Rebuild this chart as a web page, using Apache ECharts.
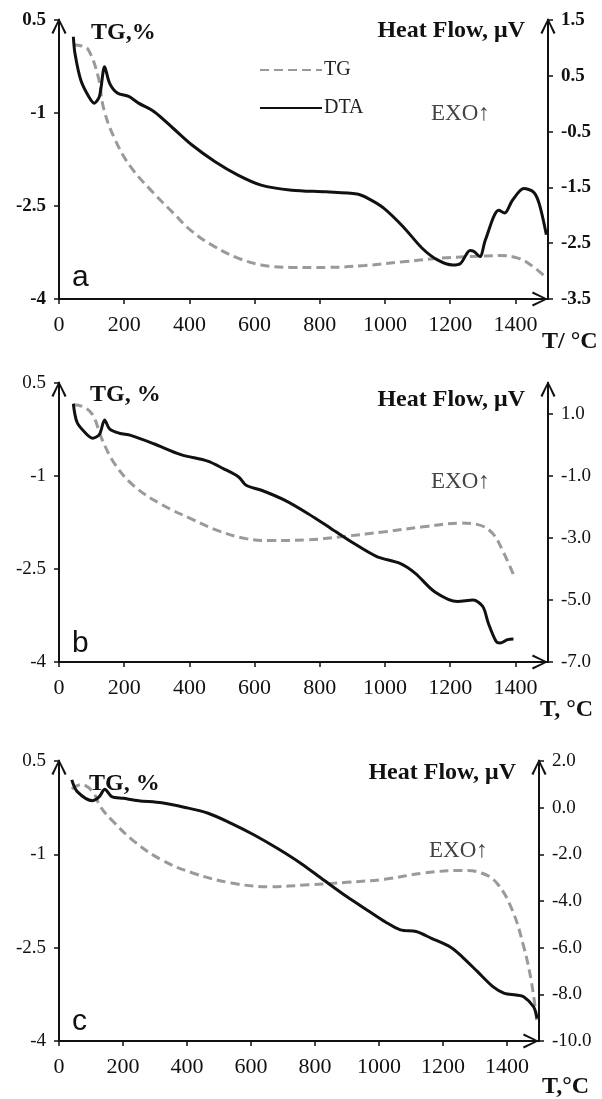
<!DOCTYPE html>
<html>
<head>
<meta charset="utf-8">
<script src="https://cdn.jsdelivr.net/npm/echarts@6/dist/echarts.min.js"></script>
<style>html,body{margin:0;padding:0;background:#fff}#c{width:602px;height:1099px}</style>
</head>
<body>
<div id="c"></div>
<script>
// ---------- data (temperature °C, value) ----------
const tA_TG = [44, 70, 90, 120, 138, 173, 220, 290, 350, 408, 479, 549, 620, 714, 820, 938, 1055, 1173, 1291, 1349, 1408, 1455, 1495];
const vA_TG = [0.10, 0.08, 0.02, -0.41, -0.95, -1.44, -1.87, -2.29, -2.61, -2.91, -3.16, -3.34, -3.45, -3.49, -3.49, -3.46, -3.40, -3.34, -3.31, -3.30, -3.34, -3.48, -3.66];
const tA_DTA = [44, 49, 67, 91, 108, 124, 140, 155, 179, 214, 244, 291, 350, 408, 479, 549, 620, 714, 820, 914, 949, 996, 1055, 1114, 1161, 1208, 1232, 1261, 1273, 1291, 1308, 1349, 1367, 1391, 1426, 1455, 1473, 1495];
const vA_DTA = [1.20, 0.90, 0.42, 0.13, 0.01, 0.13, 0.66, 0.37, 0.19, 0.13, 0.01, -0.14, -0.44, -0.74, -1.04, -1.28, -1.46, -1.55, -1.58, -1.62, -1.70, -1.87, -2.20, -2.59, -2.80, -2.89, -2.86, -2.63, -2.65, -2.74, -2.44, -1.91, -1.96, -1.73, -1.52, -1.58, -1.79, -2.35];

const tB_TG = [44, 73, 103, 132, 173, 232, 315, 409, 492, 574, 645, 763, 881, 999, 1117, 1235, 1282, 1329, 1364, 1394];
const vB_TG = [0.15, 0.12, -0.01, -0.41, -0.82, -1.17, -1.46, -1.70, -1.89, -2.01, -2.04, -2.03, -1.97, -1.90, -1.82, -1.76, -1.78, -1.92, -2.24, -2.59];
const tB_DTA = [44, 55, 79, 103, 124, 140, 155, 185, 220, 291, 374, 456, 504, 551, 574, 621, 692, 763, 834, 904, 975, 1046, 1093, 1152, 1223, 1270, 1300, 1317, 1341, 1353, 1376, 1394];
const vB_DTA = [1.33, 0.74, 0.41, 0.22, 0.34, 0.81, 0.52, 0.38, 0.31, 0.04, -0.31, -0.52, -0.76, -1.03, -1.30, -1.46, -1.78, -2.21, -2.69, -3.17, -3.60, -3.82, -4.14, -4.73, -5.05, -5.00, -5.21, -5.75, -6.34, -6.39, -6.28, -6.26];

const tC_TG = [40, 69, 105, 129, 165, 237, 321, 418, 538, 658, 779, 899, 1019, 1140, 1260, 1320, 1368, 1416, 1452, 1477, 1494];
const vC_TG = [0.05, 0.12, 0.01, -0.23, -0.45, -0.80, -1.09, -1.30, -1.46, -1.52, -1.49, -1.45, -1.40, -1.30, -1.26, -1.30, -1.46, -1.89, -2.48, -3.07, -3.72];
const tC_DTA = [40, 57, 105, 126, 143, 165, 201, 249, 321, 394, 466, 538, 610, 682, 755, 827, 899, 971, 1019, 1067, 1116, 1164, 1224, 1260, 1308, 1356, 1392, 1428, 1452, 1483, 1494];
const vC_DTA = [1.19, 0.69, 0.30, 0.47, 0.79, 0.47, 0.40, 0.30, 0.21, 0.01, -0.24, -0.67, -1.17, -1.74, -2.38, -3.10, -3.81, -4.46, -4.89, -5.24, -5.31, -5.60, -5.98, -6.39, -7.03, -7.67, -7.96, -8.03, -8.10, -8.53, -9.03];

const xTicks = [0, 200, 400, 600, 800, 1000, 1200, 1400];
const tgTicks = [-4, -2.5, -1, 0.5];
const hfTicksA = [-3.5, -2.5, -1.5, -0.5, 0.5, 1.5];
const hfTicksB = [-7, -5, -3, -1, 1];
const hfTicksC = [-10, -8, -6, -4, -2, 0, 2];
// ---------------------------------------------------

const zip = (a, b) => a.map((t, i) => [t, b[i]]);
const SERIF = '"Liberation Serif", "Times New Roman", serif';
const CHEV = 'path://M0,10 L5,0 L10,10 L8.7,10.6 L5,2.5 L1.3,10.6 Z';

const grids = [
  {left: 59, top: 20, width: 489, height: 279},
  {left: 59, top: 383, width: 489, height: 279},
  {left: 59, top: 761, width: 480, height: 280}
];

function axisLine(off) {
  return {show: true, onZero: false, lineStyle: {color: '#111', width: 2}, symbol: ['none', CHEV], symbolSize: [17, 16], symbolOffset: [0, off]};
}
const tick = {show: true, length: 5, lineStyle: {color: '#111', width: 1.5}};

const xAxes = grids.map((g, i) => ({
  type: 'value', gridIndex: i, min: 0, max: 1500, interval: 100,
  axisLine: axisLine(-8),
  axisTick: Object.assign({}, tick, {customValues: xTicks}),
  axisLabel: {customValues: xTicks, formatter: v => String(v), fontFamily: SERIF, fontSize: 22, color: '#111', margin: 15},
  splitLine: {show: false}
}));

function leftAxis(i, bold) {
  return {
    type: 'value', gridIndex: i, position: 'left', min: -4, max: 0.5, interval: 1.5,
    axisLine: axisLine(-6),
    axisTick: Object.assign({}, tick, {customValues: tgTicks}),
    axisLabel: {customValues: tgTicks, formatter: v => String(v), fontFamily: SERIF, fontSize: 19, fontWeight: bold ? 'bold' : 'normal', color: '#111', margin: 13},
    splitLine: {show: false}
  };
}
function rightAxis(i, min, max, ticks, fmt, bold) {
  return {
    type: 'value', gridIndex: i, position: 'right', min: min, max: max, interval: 0.5,
    axisLine: axisLine(-6),
    axisTick: Object.assign({}, tick, {customValues: ticks}),
    axisLabel: {customValues: ticks, formatter: fmt, fontFamily: SERIF, fontSize: 19, fontWeight: bold ? 'bold' : 'normal', color: '#111', margin: 13},
    splitLine: {show: false}
  };
}

const yAxes = [
  leftAxis(0, true), rightAxis(0, -3.5, 1.5, hfTicksA, v => String(v), true),
  leftAxis(1, false), rightAxis(1, -7, 2, hfTicksB, v => v.toFixed(1), false),
  leftAxis(2, false), rightAxis(2, -10, 2, hfTicksC, v => v.toFixed(1), false)
];

function tgSeries(name, i, data) {
  return {name: name, type: 'line', xAxisIndex: i, yAxisIndex: 2 * i, data: data, smooth: 0.4, symbol: 'none',
    lineStyle: {color: '#9a9a9a', width: 3, type: [9, 5]}, itemStyle: {color: '#9a9a9a'}, z: 2};
}
function dtaSeries(name, i, data) {
  return {name: name, type: 'line', xAxisIndex: i, yAxisIndex: 2 * i + 1, data: data, smooth: 0.3, symbol: 'none',
    lineStyle: {color: '#111', width: 3}, itemStyle: {color: '#111'}, z: 3};
}

function txt(x, y, s, opt) {
  return {type: 'text', x: x, y: y, silent: true, style: Object.assign({text: s, fill: '#111', font: 'bold 24px ' + SERIF, verticalAlign: 'middle', align: 'left'}, opt || {})};
}
const gfx = [
  txt(91, 33, 'TG,%'), txt(525, 31, 'Heat Flow, μV', {align: 'right'}),
  txt(431, 114, 'EXO↑', {font: '23px ' + SERIF, fill: '#444'}),
  txt(72, 278, 'a', {font: '30px "Liberation Sans", Arial, sans-serif'}),
  txt(542, 342, 'T/ °C'),
  txt(90, 395, 'TG, %'), txt(525, 400, 'Heat Flow, μV', {align: 'right'}),
  txt(431, 482, 'EXO↑', {font: '23px ' + SERIF, fill: '#444'}),
  txt(72, 644, 'b', {font: '30px "Liberation Sans", Arial, sans-serif'}),
  txt(540, 710, 'T, °C'),
  txt(89, 784, 'TG, %'), txt(516, 773, 'Heat Flow, μV', {align: 'right'}),
  txt(429, 851, 'EXO↑', {font: '23px ' + SERIF, fill: '#444'}),
  txt(72, 1022, 'c', {font: '30px "Liberation Sans", Arial, sans-serif'}),
  txt(542, 1087, 'T,°C')
];

const chart = echarts.init(document.getElementById('c'), null, {renderer: 'canvas'});
chart.setOption({
  animation: false,
  backgroundColor: '#fff',
  grid: grids,
  xAxis: xAxes,
  yAxis: yAxes,
  legend: {
    data: ['TG', 'DTA'], orient: 'vertical', left: 254, top: 55, itemWidth: 62, itemHeight: 14, itemGap: 18,
    selectedMode: false,
    itemStyle: {opacity: 0},
    textStyle: {fontFamily: SERIF, fontSize: 20, color: '#222', padding: [0, 0, 0, -3]}
  },
  graphic: gfx,
  series: [
    tgSeries('TG', 0, zip(tA_TG, vA_TG)), dtaSeries('DTA', 0, zip(tA_DTA, vA_DTA)),
    tgSeries('TG b', 1, zip(tB_TG, vB_TG)), dtaSeries('DTA b', 1, zip(tB_DTA, vB_DTA)),
    tgSeries('TG c', 2, zip(tC_TG, vC_TG)), dtaSeries('DTA c', 2, zip(tC_DTA, vC_DTA))
  ]
});
</script>
</body>
</html>
